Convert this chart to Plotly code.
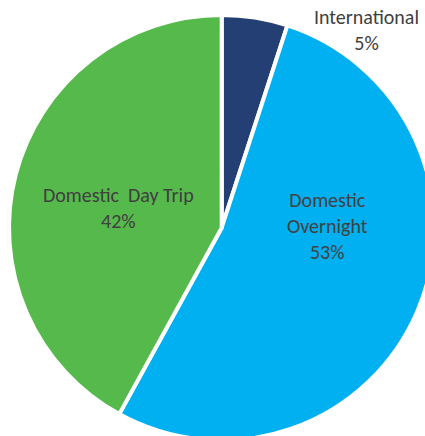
import plotly.graph_objects as go

labels = ["International", "Domestic Overnight", "Domestic Day Trip"]
values = [5, 53, 42]
colors = ["#243F73", "#00B0F0", "#56B94C"]
label_text = ["International<br>5%", "Domestic<br>Overnight<br>53%", "Domestic  Day Trip<br>42%"]
label_px = [(366, 30), (327, 226), (118, 208)]  # text positions in pixels

W, H = 445, 450

fig = go.Figure(go.Pie(
    labels=labels,
    values=values,
    sort=False,
    direction="clockwise",
    rotation=0,
    marker=dict(colors=colors, line=dict(color="white", width=4)),
    textinfo="none",
    hoverinfo="label+percent",
    showlegend=False,
    domain=dict(x=[9 / W, 434.4 / W], y=[(H - 440.4) / H, (H - 15) / H]),
))

for txt, (px, py) in zip(label_text, label_px):
    fig.add_annotation(
        x=px / W, y=1 - py / H, xref="paper", yref="paper",
        text=txt, showarrow=False, xanchor="center", yanchor="middle",
        font=dict(family="Carlito, Calibri, Lato, sans-serif", size=20, color="#404040"),
    )

fig.update_layout(
    width=W, height=H,
    margin=dict(l=0, r=0, t=0, b=0),
    paper_bgcolor="white", plot_bgcolor="white",
)

fig.write_html("out.html", post_script="document.body.style.margin='0';document.body.style.overflow='hidden';document.documentElement.style.overflow='hidden';")
